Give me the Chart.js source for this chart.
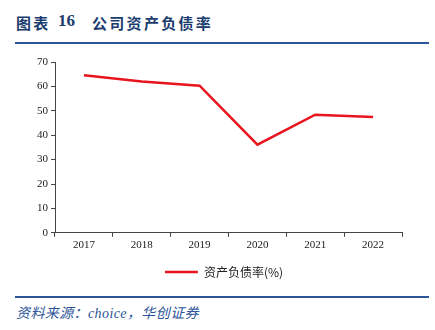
<!DOCTYPE html>
<html>
<head>
<meta charset="utf-8">
<script src="https://cdn.jsdelivr.net/npm/chart.js@4.4.0/dist/chart.umd.min.js"></script>
<style>
  html, body { margin: 0; padding: 0; background: #fff; }
  #page { position: relative; width: 435px; height: 330px; overflow: hidden; }
  .t {
    position: absolute; top: 12px;
    font-family: "Noto Sans CJK SC", sans-serif; font-weight: bold;
    font-size: 15px; color: #1a3c6e; white-space: pre; letter-spacing: 2.3px;
  }
  .t.num { font-family: "Liberation Serif", serif; font-size: 17px; top: 11px; letter-spacing: 0; }
  .rule { position: absolute; left: 15px; width: 414px; height: 2px; background: #2c5497; }
  #source {
    position: absolute; left: 16px; top: 302px;
    font-family: "Liberation Serif", "Noto Sans CJK SC", serif; font-style: italic;
    font-size: 14px; color: #2c5497; letter-spacing: 0.4px;
  }
  #wrap { position: absolute; left: 0; top: 50px; width: 435px; height: 240px; }
</style>
</head>
<body>
<div id="page">
  <div class="t" style="left:16px">图表</div>
  <div class="t num" style="left:58px">16</div>
  <div class="t" style="left:92px">公司资产负债率</div>
  <div class="rule" style="top:42px"></div>
  <div id="wrap"><canvas id="chart"></canvas></div>
  <div class="rule" style="top:296px"></div>
  <div id="source">资料来源：choice，华创证券</div>
</div>
<script>
const years = ["2017", "2018", "2019", "2020", "2021", "2022"];
const debtRatio = [64.6, 62.0, 60.3, 36.1, 48.4, 47.5];
const seriesName = "资产负债率(%)";

const tickFont = { family: "'Liberation Serif', serif", size: 11 };
const axisColor = "#444";

// nudge the legend right so it sits centred on the page, not on the plot
const shiftLegend = {
  id: "shiftLegend",
  afterLayout(chart) {
    chart.legend.left += 23;
    chart.legend.right += 23;
  }
};

new Chart(document.getElementById("chart"), {
  type: "line",
  data: {
    labels: years,
    datasets: [{
      label: seriesName,
      data: debtRatio,
      borderColor: "#e8141e",
      backgroundColor: "#e8141e",
      borderWidth: 2.5,
      pointRadius: 0,
      tension: 0
    }]
  },
  options: {
    responsive: true,
    maintainAspectRatio: false,
    animation: false,
    layout: { padding: { left: 0, right: 33, top: 12, bottom: 2 } },
    plugins: {
      tooltip: { enabled: false },
      legend: {
        position: "bottom",
        labels: {
          usePointStyle: true,
          pointStyle: "line",
          pointStyleWidth: 33,
          color: "#222",
          padding: 12,
          font: { family: "'Noto Sans CJK SC', sans-serif", size: 12 }
        }
      }
    },
    scales: {
      x: {
        offset: true,
        grid: { offset: true, drawOnChartArea: false, drawTicks: true, tickLength: 4, color: axisColor },
        border: { color: axisColor, width: 1 },
        ticks: { color: "#222", font: tickFont, padding: 2, maxRotation: 0 }
      },
      y: {
        min: 0,
        max: 70,
        afterFit: s => { s.width = 55; },
        grid: { drawOnChartArea: false, drawTicks: true, tickLength: 4, color: axisColor },
        border: { color: axisColor, width: 1 },
        ticks: { stepSize: 10, color: "#222", font: tickFont, padding: 3 }
      }
    }
  },
  plugins: [shiftLegend]
});
</script>
</body>
</html>
